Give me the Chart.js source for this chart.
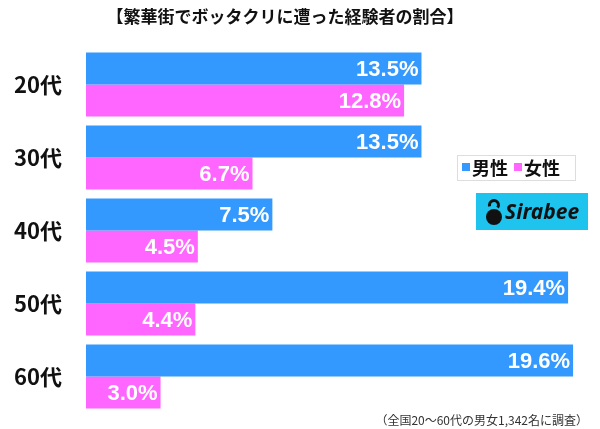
<!DOCTYPE html>
<html>
<head>
<meta charset="utf-8">
<script src="https://cdn.jsdelivr.net/npm/chart.js@4/dist/chart.umd.min.js"></script>
<style>
  html, body { margin: 0; padding: 0; background: #fff; }
</style>
</head>
<body>
<canvas id="myChart" width="600" height="429"></canvas>
<script>
const titulo = "【繁華街でボッタクリに遭った経験者の割合】";
const rodape = "（全国20～60代の男女1,342名に調査）";
const categorias = ["20代", "30代", "40代", "50代", "60代"];
const valoresHomens = [13.5, 13.5, 7.5, 19.4, 19.6];
const valoresMulheres = [12.8, 6.7, 4.5, 4.4, 3.0];
const nomesSeries = ["男性", "女性"];
const coresSeries = ["#3399ff", "#ff66ff"];
const fonte = "'Noto Sans CJK JP', 'Noto Sans', sans-serif";

const ctx = document.getElementById('myChart').getContext("2d");

// rótulos de valor dentro das barras
const rotulosPlugin = {
  id: 'rotulos',
  afterDatasetsDraw(chart) {
    const c = chart.ctx;
    c.save();
    c.font = "bold 22px 'Liberation Sans', Arial, sans-serif";
    c.fillStyle = "#fff";
    c.textAlign = "right";
    c.textBaseline = "middle";
    chart.data.datasets.forEach((ds, i) => {
      chart.getDatasetMeta(i).data.forEach((bar, j) => {
        c.fillText(ds.data[j].toFixed(1) + "%", bar.x - 3, bar.y + 1);
      });
    });
    c.restore();
  }
};

// título, legenda, logo e rodapé
const extrasPlugin = {
  id: 'extras',
  afterDraw(chart) {
    const c = chart.ctx;
    c.save();
    c.fillStyle = "#111";
    c.font = "bold 17px " + fonte;
    c.textAlign = "center";
    c.textBaseline = "middle";
    c.fillText(titulo, 285, 17);

    // legenda
    c.strokeStyle = "#ddd";
    c.lineWidth = 1;
    c.strokeRect(457.5, 155.5, 118, 25);
    c.font = "bold 18px " + fonte;
    c.textAlign = "left";
    let x = 462;
    nomesSeries.forEach((n, i) => {
      c.fillStyle = coresSeries[i];
      c.fillRect(x, 163, 8, 8);
      c.fillStyle = "#111";
      c.fillText(n, x + 10, 168);
      x += 10 + c.measureText(n).width + 6;
    });

    // logo
    c.fillStyle = "#1ec3ee";
    c.fillRect(476, 193, 112, 37);
    c.fillStyle = "#111";
    c.beginPath();
    c.arc(494, 217, 8, 0, Math.PI * 2);
    c.fill();
    c.lineWidth = 3;
    c.strokeStyle = "#111";
    c.beginPath();
    c.arc(494, 205, 4.5, Math.PI * 0.9, Math.PI * 2.2);
    c.stroke();
    c.font = "italic bold 21px 'Noto Sans', sans-serif";
    c.fillText("Sirabee", 505, 213);

    // rodapé
    c.font = "12px " + fonte;
    c.fillStyle = "#333";
    c.textAlign = "right";
    c.fillText(rodape, 588, 420);
    c.restore();
  }
};

new Chart(ctx, {
  type: 'bar',
  data: {
    labels: categorias,
    datasets: [{
      label: nomesSeries[0],
      data: valoresHomens,
      backgroundColor: coresSeries[0],
      borderWidth: 0,
      barPercentage: 1,
      categoryPercentage: 0.877
    }, {
      label: nomesSeries[1],
      data: valoresMulheres,
      backgroundColor: coresSeries[1],
      borderWidth: 0,
      barPercentage: 1,
      categoryPercentage: 0.877
    }]
  },
  options: {
    indexAxis: 'y',
    responsive: false,
    animation: false,
    layout: { padding: { top: 48, bottom: 16, right: 17, left: 0 } },
    plugins: {
      legend: { display: false },
      tooltip: { enabled: false }
    },
    scales: {
      x: {
        min: 0,
        max: 20,
        display: false
      },
      y: {
        grid: { display: false },
        border: { display: false },
        afterFit(axis) {
          axis.width = 86;
          axis.paddingTop = 0;
          axis.paddingBottom = 0;
        },
        ticks: {
          color: "#111",
          padding: 16,
          font: { family: fonte, size: 22, weight: 'bold' }
        }
      }
    }
  },
  plugins: [rotulosPlugin, extrasPlugin]
});
</script>
</body>
</html>
